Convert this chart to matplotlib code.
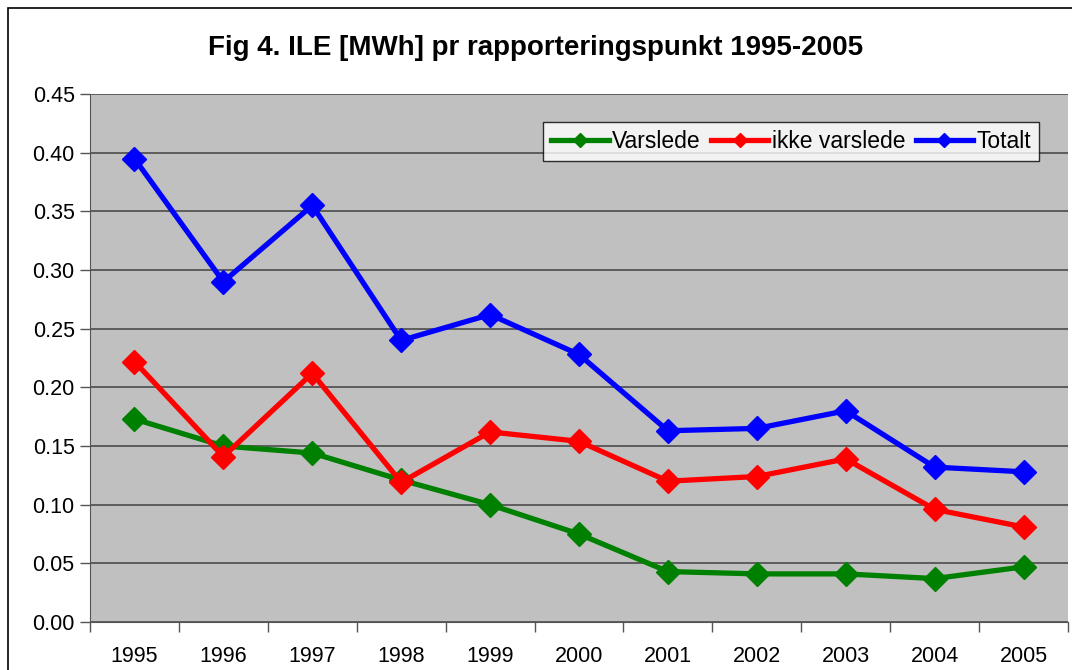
import matplotlib.pyplot as plt
from matplotlib.patches import Rectangle

years = ["1995", "1996", "1997", "1998", "1999", "2000", "2001", "2002", "2003", "2004", "2005"]
varslede = [0.173, 0.150, 0.144, 0.121, 0.100, 0.075, 0.043, 0.041, 0.041, 0.037, 0.047]
ikke_varslede = [0.222, 0.141, 0.212, 0.119, 0.162, 0.154, 0.120, 0.124, 0.139, 0.096, 0.081]
totalt = [0.395, 0.290, 0.355, 0.240, 0.262, 0.228, 0.163, 0.165, 0.180, 0.132, 0.128]

plt.rcParams['font.family'] = ['Liberation Sans', 'DejaVu Sans']

fig = plt.figure(figsize=(10.72, 6.7), dpi=100)
fig.patches.append(Rectangle((8 / 1072, -0.1), 1.2, (670 - 8) / 670 + 0.1,
                             transform=fig.transFigure, fill=False,
                             edgecolor='black', linewidth=1.2))
ax = fig.add_axes([90 / 1072, 48 / 670, (1068 - 90) / 1072, (622 - 94) / 670])
ax.set_facecolor('#c0c0c0')

x = list(range(len(years)))
ax.plot(x, varslede, color='#008000', lw=3.8, marker='D', ms=12, label='Varslede')
ax.plot(x, ikke_varslede, color='#ff0000', lw=3.8, marker='D', ms=12, label='ikke varslede')
ax.plot(x, totalt, color='#0000ff', lw=3.8, marker='D', ms=12, label='Totalt')

ax.set_xlim(-0.5, len(years) - 0.5)
ax.set_ylim(0, 0.45)
ax.set_yticks([i * 0.05 for i in range(10)])
ax.set_yticklabels(["%.2f" % (i * 0.05) for i in range(10)], fontsize=15.5)
ax.set_xticks(x)
ax.set_xticklabels(years, fontsize=15.5)
ax.tick_params(axis='x', length=0, pad=17)
ax.set_xticks([i + 0.5 for i in range(-1, len(years))], minor=True)
ax.tick_params(axis='x', which='minor', length=7, width=1, color='#555555')
ax.tick_params(axis='y', length=7, width=1, color='#555555', pad=4)
ax.yaxis.grid(True, color='#555555', lw=1.3)
ax.set_axisbelow(True)
for s in ['top', 'right']:
    ax.spines[s].set_visible(False)
ax.spines['left'].set_color('#555555')
ax.spines['bottom'].set_color('#555555')

fig.text(0.5, 1 - 48 / 670, "Fig 4. ILE [MWh] pr rapporteringspunkt 1995-2005",
         ha='center', va='center', fontsize=20, fontweight='bold')

leg = ax.legend(loc='upper right', bbox_to_anchor=(1039 / 1072, 1 - 122 / 670),
                bbox_transform=fig.transFigure, ncol=3, fontsize=16.5, frameon=True,
                fancybox=False, edgecolor='black', handlelength=2.5,
                handletextpad=0.15, columnspacing=0.45, borderpad=0.35,
                borderaxespad=0)
leg.get_frame().set_linewidth(1)
for h in leg.legend_handles:
    h.set_markersize(7)

plt.savefig('out.png', dpi=100)
